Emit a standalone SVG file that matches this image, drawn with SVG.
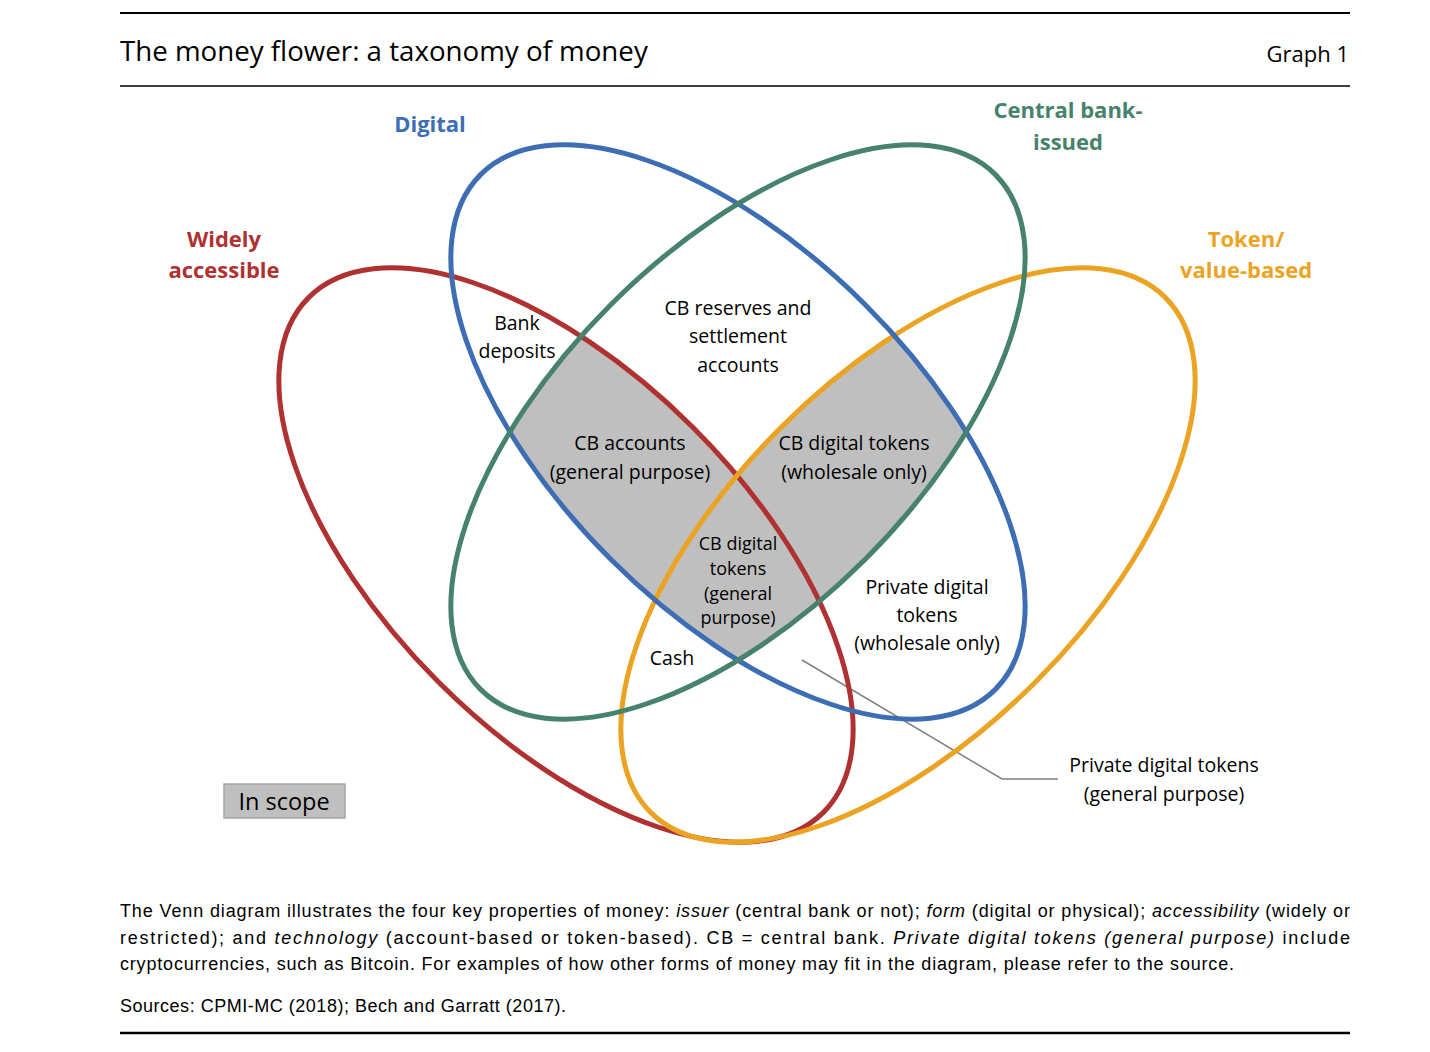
<svg xmlns="http://www.w3.org/2000/svg" width="1430" height="1052" viewBox="0 0 1430 1052">
<style>
.lbl{font-family:"Open Sans","Liberation Sans",sans-serif;font-size:19.5px;fill:#000;text-anchor:middle}
.sm{font-size:18px}
.cat{font-family:"Open Sans","Liberation Sans",sans-serif;font-size:22px;font-weight:bold;text-anchor:middle}
.ring{fill:none;stroke-width:5}
.note{font-family:"Liberation Sans",Arial,sans-serif;font-size:18px;fill:#000}
.it{font-style:italic}
</style>
<defs>
<clipPath id="clipBlue"><ellipse cx="0" cy="0" rx="364" ry="180" transform="translate(738 432) rotate(45)"/></clipPath>
<clipPath id="clipGreen"><ellipse cx="0" cy="0" rx="364" ry="180" transform="translate(738 432) rotate(-45)"/></clipPath>
</defs>
<rect width="1430" height="1052" fill="#fff"/>
<g id="header">
<line x1="120" y1="13" x2="1350" y2="13" stroke="#000" stroke-width="2"/>
<text x="120" y="61" font-family="Open Sans,Liberation Sans,sans-serif" font-size="27.7" fill="#000">The money flower: a taxonomy of money</text>
<text x="1349" y="62" font-family="Open Sans,Liberation Sans,sans-serif" font-size="22" fill="#000" text-anchor="end">Graph 1</text>
<line x1="120" y1="86" x2="1350" y2="86" stroke="#000" stroke-width="1.5"/>
</g>
<g id="scope-shading" clip-path="url(#clipBlue)"><g clip-path="url(#clipGreen)">
<ellipse cx="0" cy="0" rx="364" ry="180" transform="translate(566 555) rotate(45)" fill="#bfbfbf"/>
<ellipse cx="0" cy="0" rx="364" ry="180" transform="translate(908 555) rotate(-45)" fill="#bfbfbf"/>
</g></g>
<g id="connectors">
<polyline points="802,660 1002,779 1058,779" fill="none" stroke="#7f7f7f" stroke-width="1.5"/>
</g>
<g id="widely-accessible">
<ellipse class="ring" cx="0" cy="0" rx="364" ry="180" transform="translate(566 555) rotate(45)" stroke="#b03131"/>
<text class="cat" fill="#b03131"><tspan x="224" y="247">Widely</tspan><tspan x="224" y="278">accessible</tspan></text>
</g>
<g id="token-value-based">
<ellipse class="ring" cx="0" cy="0" rx="364" ry="180" transform="translate(908 555) rotate(-45)" stroke="#eba324"/>
<text class="cat" fill="#eba324"><tspan x="1246" y="247">Token/</tspan><tspan x="1246" y="278">value-based</tspan></text>
</g>
<g id="digital">
<ellipse class="ring" cx="0" cy="0" rx="364" ry="180" transform="translate(738 432) rotate(45)" stroke="#3d6eb3"/>
<text class="cat" fill="#3d6eb3" x="430" y="132">Digital</text>
</g>
<g id="central-bank-issued">
<ellipse class="ring" cx="0" cy="0" rx="364" ry="180" transform="translate(738 432) rotate(-45)" stroke="#46826c"/>
<text class="cat" fill="#46826c"><tspan x="1068" y="118">Central bank-</tspan><tspan x="1068" y="150">issued</tspan></text>
</g>
<g id="bank-deposits"><text class="lbl"><tspan x="517" y="330">Bank</tspan><tspan x="517" y="358">deposits</tspan></text></g>
<g id="cb-reserves"><text class="lbl"><tspan x="738" y="315">CB reserves and</tspan><tspan x="738" y="343">settlement</tspan><tspan x="738" y="372">accounts</tspan></text></g>
<g id="cb-accounts"><text class="lbl"><tspan x="630" y="450">CB accounts</tspan><tspan x="630" y="479">(general purpose)</tspan></text></g>
<g id="cb-digital-wholesale"><text class="lbl"><tspan x="854" y="450">CB digital tokens</tspan><tspan x="854" y="479">(wholesale only)</tspan></text></g>
<g id="cb-digital-general"><text class="lbl sm"><tspan x="738" y="550">CB digital</tspan><tspan x="738" y="575">tokens</tspan><tspan x="738" y="600">(general</tspan><tspan x="738" y="624">purpose)</tspan></text></g>
<g id="cash"><text class="lbl" x="672" y="665">Cash</text></g>
<g id="private-wholesale"><text class="lbl"><tspan x="927" y="594">Private digital</tspan><tspan x="927" y="622">tokens</tspan><tspan x="927" y="650">(wholesale only)</tspan></text></g>
<g id="private-general"><text class="lbl"><tspan x="1164" y="772">Private digital tokens</tspan><tspan x="1164" y="801">(general purpose)</tspan></text></g>
<g id="legend">
<rect x="224" y="784" width="121" height="34" fill="#bfbfbf" stroke="#a6a6a6" stroke-width="1.5"/>
<text class="lbl" x="284" y="810" style="font-size:23.5px">In scope</text>
</g>
<g id="footnote">
<text class="note" x="120" y="917" textLength="1230" lengthAdjust="spacing">The Venn diagram illustrates the four key properties of money: <tspan class="it">issuer</tspan> (central bank or not); <tspan class="it">form</tspan> (digital or physical); <tspan class="it">accessibility</tspan> (widely or</text>
<text class="note" x="120" y="944" textLength="1230" lengthAdjust="spacing">restricted); and <tspan class="it">technology</tspan> (account-based or token-based). CB = central bank. <tspan class="it">Private digital tokens (general purpose)</tspan> include</text>
<text class="note" x="120" y="970" textLength="1114" lengthAdjust="spacing">cryptocurrencies, such as Bitcoin. For examples of how other forms of money may fit in the diagram, please refer to the source.</text>
<text class="note" x="120" y="1012" textLength="446" lengthAdjust="spacing">Sources: CPMI-MC (2018); Bech and Garratt (2017).</text>
<line x1="120" y1="1033" x2="1350" y2="1033" stroke="#000" stroke-width="2.5"/>
</g>
</svg>
